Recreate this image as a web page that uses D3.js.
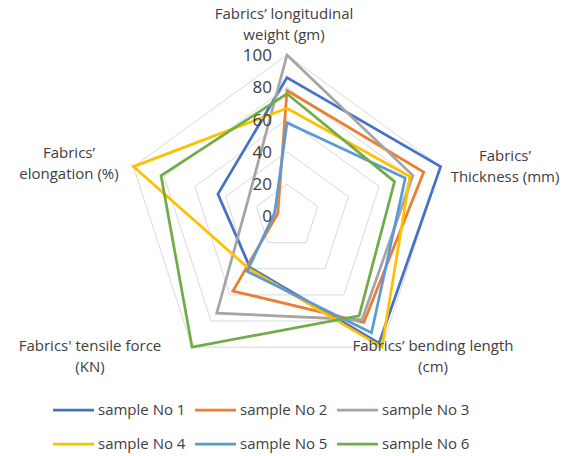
<!DOCTYPE html>
<html>
<head>
<meta charset="utf-8">
<script src="https://cdn.jsdelivr.net/npm/d3@7"></script>
<style>
  html, body { margin: 0; padding: 0; background: #fff; }
  svg { display: block; }
  text { font-family: "Open Sans", "Noto Sans", sans-serif; fill: #404040; }
</style>
</head>
<body>
<svg id="chart" width="575" height="456"></svg>
<script>
// ---- data ----
const axesLabels = [
  ["Fabrics\u2019 longitudinal", "weight (gm)"],
  ["Fabrics\u2019", "Thickness (mm)"],
  ["Fabrics\u2019 bending length", "(cm)"],
  ["Fabrics' tensile force", "(KN)"],
  ["Fabrics\u2019", "elongation (%)"]
];
const seriesNames = ["sample No 1", "sample No 2", "sample No 3", "sample No 4", "sample No 5", "sample No 6"];
const sample1 = [86, 100, 97, 39, 45];
const sample2 = [78, 89, 81, 57, 6];
const sample3 = [100, 82, 79, 74, 26];
const sample4 = [67, 80, 100, 40, 100];
const sample5 = [58, 77, 89, 42, 8];
const sample6 = [76, 70, 76, 100, 82];
const tickValues = [0, 20, 40, 60, 80, 100];
const colors = ["#4472C4", "#ED7D31", "#A5A5A5", "#FFC000", "#5B9BD5", "#70AD47"];

const seriesData = [sample1, sample2, sample3, sample4, sample5, sample6];

// ---- layout ----
const svg = d3.select("#chart");
const cx = 287, cy = 216.5, R = 161.5;
const r = d3.scaleLinear().domain([0, 100]).range([0, R]);
const n = axesLabels.length;
const angle = i => (i * 2 * Math.PI) / n;
const pt = (i, v) => [cx + r(v) * Math.sin(angle(i)), cy - r(v) * Math.cos(angle(i))];

// grid rings
const g = svg.append("g");
tickValues.filter(t => t > 0).forEach(t => {
  const pts = d3.range(n).map(i => pt(i, t));
  g.append("path")
    .attr("d", d3.line()(pts) + "Z")
    .attr("fill", "none")
    .attr("stroke", "#d9d9d9")
    .attr("stroke-width", 1);
});

// series
const line = d3.line().x(d => d[0]).y(d => d[1]).curve(d3.curveLinearClosed);
seriesData.forEach((s, k) => {
  svg.append("path")
    .attr("d", line(s.map((v, i) => pt(i, v))))
    .attr("fill", "none")
    .attr("stroke", colors[k])
    .attr("stroke-width", 2.75)
    .attr("stroke-linejoin", "miter");
});

// tick labels
svg.append("g").selectAll("text").data(tickValues).join("text")
  .attr("x", cx - 15)
  .attr("y", d => cy - r(d))
  .attr("dy", "0.35em")
  .attr("text-anchor", "end")
  .style("font-size", "17px")
  .text(d => d);

// axis labels
const labelPos = [
  { x: 284, y: 19 },
  { x: 505, y: 161 },
  { x: 433, y: 351 },
  { x: 90, y: 351 },
  { x: 69, y: 158 }
];
axesLabels.forEach((lines, i) => {
  const t = svg.append("text")
    .attr("text-anchor", "middle")
    .style("font-size", "15px");
  lines.forEach((ln, j) => {
    t.append("tspan").attr("x", labelPos[i].x).attr("y", labelPos[i].y + j * 21).text(ln);
  });
});

// legend
const legendX = [53, 195, 337];
const legendY = [410, 444];
seriesNames.forEach((name, k) => {
  const col = k % 3, row = Math.floor(k / 3);
  const x = legendX[col], y = legendY[row];
  svg.append("line")
    .attr("x1", x).attr("x2", x + 41)
    .attr("y1", y).attr("y2", y)
    .attr("stroke", colors[k]).attr("stroke-width", 2.75);
  svg.append("text")
    .attr("x", x + 45).attr("y", y)
    .attr("dy", "0.35em")
    .style("font-size", "15px")
    .text(name);
});
</script>
</body>
</html>
